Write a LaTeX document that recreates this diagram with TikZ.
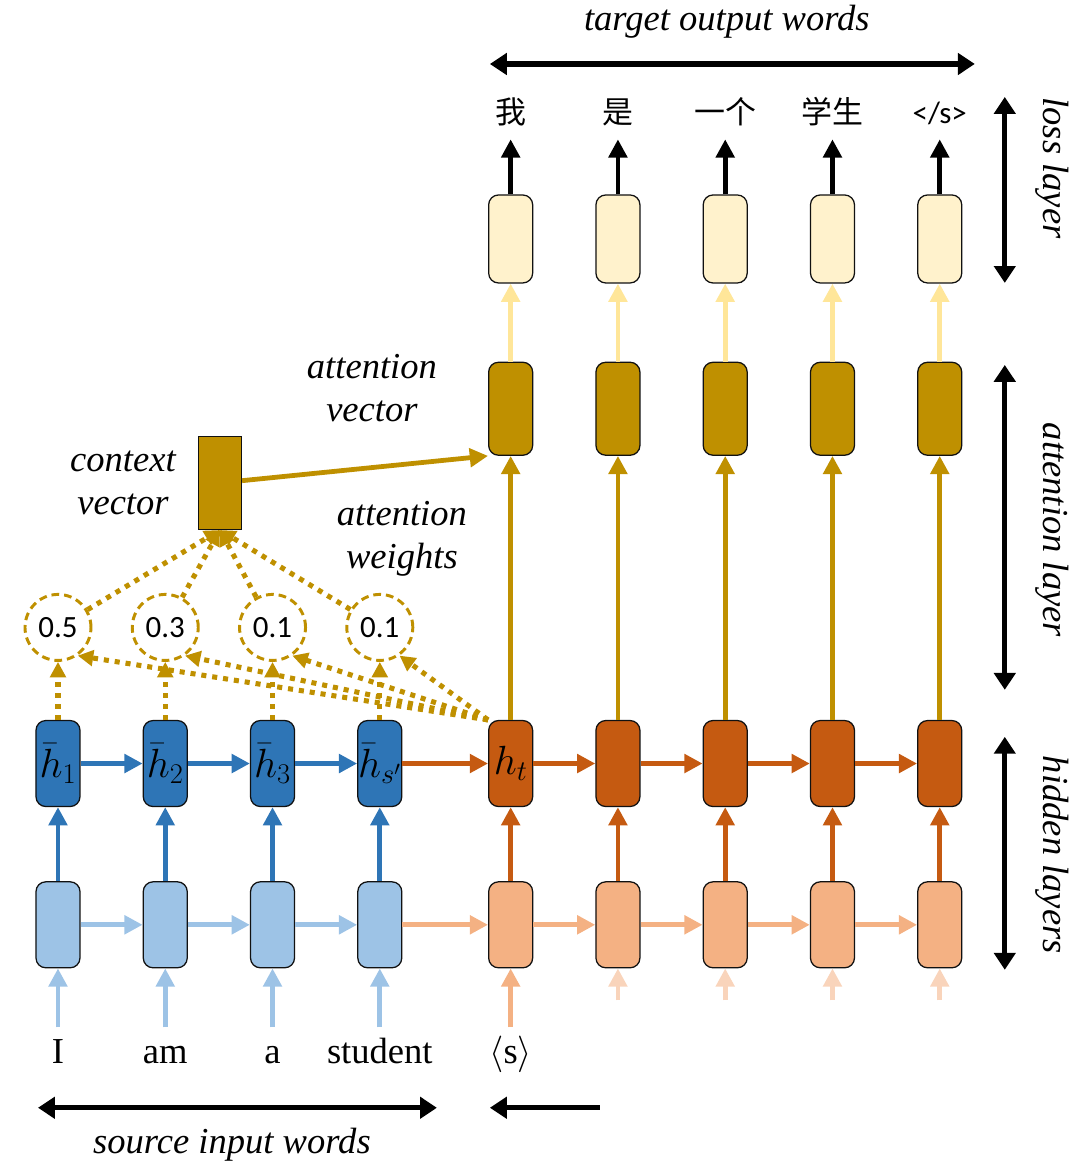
\documentclass[tikz,border=0pt]{standalone}
\usepackage{fix-cm}
\usepackage{fontspec}
\setmainfont{Liberation Serif}
\newfontfamily\numfont{Carlito}
\newfontfamily\cjk{Noto Sans CJK SC}
\usetikzlibrary{arrows.meta,positioning}
\definecolor{ink}{HTML}{111111}
\definecolor{deepblue}{HTML}{2E75B6}
\definecolor{paleblue}{HTML}{9DC3E6}
\definecolor{rust}{HTML}{C55A11}
\definecolor{peach}{HTML}{F4B183}
\definecolor{gold}{HTML}{BF9000}
\definecolor{cream}{HTML}{FFF2CC}
\definecolor{butter}{HTML}{FFE699}

\begin{document}
\begin{tikzpicture}[
  x=0.025cm,y=-0.025cm,
  node distance=1.85cm and 1.55cm,
  cell/.style={draw=ink,line width=0.9pt,rounded corners=7pt,inner sep=0pt,minimum width=1.1cm,minimum height=2.15cm},
  srcin/.style={cell,fill=paleblue},
  tgtin/.style={cell,fill=peach},
  srchid/.style={cell,fill=deepblue,font=\fontsize{29}{32}\selectfont},
  tgthid/.style={cell,fill=rust,font=\fontsize{29}{32}\selectfont},
  attn/.style={cell,fill=gold,minimum height=2.325cm},
  loss/.style={cell,fill=cream,minimum height=2.2cm},
  ctxbox/.style={draw=ink,line width=0.9pt,fill=gold,inner sep=0pt,minimum width=1.075cm,minimum height=2.325cm},
  weight/.style={circle,draw=gold,line width=2.1pt,dash pattern=on 5.5pt off 3.5pt,minimum size=1.65cm,inner sep=0pt,font=\numfont\fontsize{22}{24}\selectfont},
  srcword/.style={inner sep=0pt,text height=0.9cm,text depth=0.2cm,font=\fontsize{26}{30}\selectfont},
  tgtword/.style={inner sep=0pt,text depth=0.4cm,font=\cjk\fontsize{22}{24}\selectfont},
  note/.style={align=center,font=\itshape\fontsize{26}{30.5}\selectfont},
  side/.style={rotate=-90,font=\itshape\fontsize{26}{30}\selectfont},
  arrow/.style={-{Triangle[length=13pt,width=13pt]},line width=3.4pt},
  dotlink/.style={-{Triangle[length=11pt,width=11pt]},draw=gold,line width=3.6pt,dash pattern=on 3.6pt off 4.2pt},
  span/.style={{Triangle[length=12pt,width=15pt]}-{Triangle[length=12pt,width=15pt]},line width=3.6pt},
  halfspan/.style={-{Triangle[length=12pt,width=15pt]},line width=3.6pt}
]
% input cells
\node[srcin] (x1) at (58,925) {};
\node[srcin,right=of x1] (x2) {};
\node[srcin,right=of x2] (x3) {};
\node[srcin,right=of x3] (x4) {};
\node[tgtin,right=2.14cm of x4] (y1) {};
\node[tgtin,right=of y1] (y2) {};
\node[tgtin,right=of y2] (y3) {};
\node[tgtin,right=of y3] (y4) {};
\node[tgtin,right=of y4] (y5) {};
% hidden cells
\node[srchid,above=of x1] (hs1) {$\bar{h}_1$};
\node[srchid,above=of x2] (hs2) {$\bar{h}_2$};
\node[srchid,above=of x3] (hs3) {$\bar{h}_3$};
\node[srchid,above=of x4] (hs4) {$\bar{h}_{s'}$};
\node[tgthid,above=of y1] (ht1) {$h_t$};
\node[tgthid,above=of y2] (ht2) {};
\node[tgthid,above=of y3] (ht3) {};
\node[tgthid,above=of y4] (ht4) {};
\node[tgthid,above=of y5] (ht5) {};
% attention and loss cells
\node[attn,above=6.6cm of ht1] (att1) {};
\node[attn,above=6.6cm of ht2] (att2) {};
\node[attn,above=6.6cm of ht3] (att3) {};
\node[attn,above=6.6cm of ht4] (att4) {};
\node[attn,above=6.6cm of ht5] (att5) {};
\node[loss,above=1.95cm of att1] (loss1) {};
\node[loss,above=1.95cm of att2] (loss2) {};
\node[loss,above=1.95cm of att3] (loss3) {};
\node[loss,above=1.95cm of att4] (loss4) {};
\node[loss,above=1.95cm of att5] (loss5) {};
% words
\node[tgtword,above=1.375cm of loss1] (o1) {我};
\node[tgtword,above=1.375cm of loss2] (o2) {是};
\node[tgtword,above=1.375cm of loss3] (o3) {一个};
\node[tgtword,above=1.375cm of loss4] (o4) {学生};
\node[tgtword,above=1.375cm of loss5] (o5) {\numfont </s>};
\node[srcword,below=1.475cm of x1] (wi) {I};
\node[srcword,below=1.475cm of x2] (wam) {am};
\node[srcword,below=1.475cm of x3] (wa) {a};
\node[srcword,below=1.475cm of x4] (wstudent) {student};
\node[srcword,below=1.475cm of y1] (ws) {$\langle$s$\rangle$};
\coordinate[below=0.8cm of y2] (f2);
\coordinate[below=0.8cm of y3] (f3);
\coordinate[below=0.8cm of y4] (f4);
\coordinate[below=0.8cm of y5] (f5);
% attention weights and context
\node[weight,above=1.45cm of hs1] (w1) {0.5};
\node[weight,above=1.45cm of hs2] (w2) {0.3};
\node[weight,above=1.45cm of hs3] (w3) {0.1};
\node[weight,above=1.45cm of hs4] (w4) {0.1};
\node[ctxbox] (ctx) at (220,483) {};
\node[note] (ctxlbl) at (123,483) {context\\vector};
\node[note] (attvec) at (372,388) {attention\\vector};
\node[note] (attw) at (402,539) {attention\\weights};

% inputs
\draw[arrow,paleblue] (wi) -- (x1);
\draw[arrow,paleblue] (wam) -- (x2);
\draw[arrow,paleblue] (wa) -- (x3);
\draw[arrow,paleblue] (wstudent) -- (x4);
\draw[arrow,peach] (ws) -- (y1);
\draw[arrow,peach!55] (f2) -- (y2);
\draw[arrow,peach!55] (f3) -- (y3);
\draw[arrow,peach!55] (f4) -- (y4);
\draw[arrow,peach!55] (f5) -- (y5);
% first layer
\draw[arrow,paleblue] (x1) -- (x2);
\draw[arrow,paleblue] (x2) -- (x3);
\draw[arrow,paleblue] (x3) -- (x4);
\draw[arrow,peach] (x4) -- (y1);
\draw[arrow,peach] (y1) -- (y2);
\draw[arrow,peach] (y2) -- (y3);
\draw[arrow,peach] (y3) -- (y4);
\draw[arrow,peach] (y4) -- (y5);
\draw[arrow,deepblue] (x1) -- (hs1);
\draw[arrow,deepblue] (x2) -- (hs2);
\draw[arrow,deepblue] (x3) -- (hs3);
\draw[arrow,deepblue] (x4) -- (hs4);
\draw[arrow,rust] (y1) -- (ht1);
\draw[arrow,rust] (y2) -- (ht2);
\draw[arrow,rust] (y3) -- (ht3);
\draw[arrow,rust] (y4) -- (ht4);
\draw[arrow,rust] (y5) -- (ht5);
% hidden layer
\draw[arrow,deepblue] (hs1) -- (hs2);
\draw[arrow,deepblue] (hs2) -- (hs3);
\draw[arrow,deepblue] (hs3) -- (hs4);
\draw[arrow,rust] (hs4) -- (ht1);
\draw[arrow,rust] (ht1) -- (ht2);
\draw[arrow,rust] (ht2) -- (ht3);
\draw[arrow,rust] (ht3) -- (ht4);
\draw[arrow,rust] (ht4) -- (ht5);
% attention
\draw[dotlink] (hs1) -- (w1);
\draw[dotlink] (hs2) -- (w2);
\draw[dotlink] (hs3) -- (w3);
\draw[dotlink] (hs4) -- (w4);
\draw[dotlink] (ht1.north west) -- (w1.-55);
\draw[dotlink] (ht1.north west) -- (w2.-55);
\draw[dotlink] (ht1.north west) -- (w3.-55);
\draw[dotlink] (ht1.north west) -- (w4.-55);
\draw[dotlink] (w1) -- (ctx.south);
\draw[dotlink] (w2) -- (ctx.south);
\draw[dotlink] (w3) -- (ctx.south);
\draw[dotlink] (w4) -- (ctx.south);
\draw[arrow,gold] (ctx) -- (att1.south west);
\draw[arrow,gold] (ht1) -- (att1);
\draw[arrow,gold] (ht2) -- (att2);
\draw[arrow,gold] (ht3) -- (att3);
\draw[arrow,gold] (ht4) -- (att4);
\draw[arrow,gold] (ht5) -- (att5);
% output
\draw[arrow,butter] (att1) -- (loss1);
\draw[arrow,butter] (att2) -- (loss2);
\draw[arrow,butter] (att3) -- (loss3);
\draw[arrow,butter] (att4) -- (loss4);
\draw[arrow,butter] (att5) -- (loss5);
\draw[arrow] (loss1) -- (o1);
\draw[arrow] (loss2) -- (o2);
\draw[arrow] (loss3) -- (o3);
\draw[arrow] (loss4) -- (o4);
\draw[arrow] (loss5) -- (o5);

% spans and their labels
\node[note] (toplbl) at (727,22) {target output words};
\coordinate (tl) at (490,64);
\coordinate (tr) at (975,64);
\draw[span] (tl) -- (tr);
\node[note] (srclbl) at (232,1145) {source input words};
\coordinate (bl) at (38,1108);
\coordinate (br) at (437,1108);
\draw[span] (bl) -- (br);
\coordinate (pl) at (490,1108);
\coordinate (pr) at (600,1108);
\draw[halfspan] (pr) -- (pl);
\coordinate (ltop) at (1005,97);
\coordinate (lbot) at (1005,283);
\draw[span] (ltop) -- (lbot);
\coordinate (atop) at (1005,365);
\coordinate (abot) at (1005,690);
\draw[span] (atop) -- (abot);
\coordinate (htop) at (1005,737);
\coordinate (hbot) at (1005,970);
\draw[span] (htop) -- (hbot);
\node[side] (losslbl) at (1052,168) {loss layer};
\node[side] (attlbl) at (1052,530) {attention layer};
\node[side] (hidlbl) at (1052,855) {hidden layers};
\useasboundingbox (0,0) rectangle (1080,1166);
\end{tikzpicture}
\end{document}
